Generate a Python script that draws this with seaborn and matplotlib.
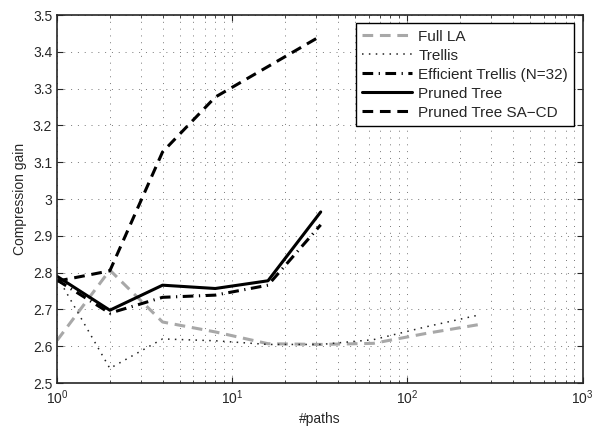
import matplotlib
matplotlib.use("Agg")
import matplotlib.pyplot as plt
import matplotlib.ticker as mticker
import seaborn as sns
import pandas as pd

# Data
paths_long = [1, 2, 4, 8, 16, 32, 64, 128, 256]
paths_short = [1, 2, 4, 8, 16, 32]

full_la = [2.616, 2.807, 2.666, 2.639, 2.607, 2.605, 2.608, 2.635, 2.659]
trellis = [2.79, 2.54, 2.62, 2.615, 2.605, 2.605, 2.618, 2.653, 2.685]
eff_trellis = [2.78, 2.69, 2.733, 2.739, 2.766, 2.93]
pruned_tree = [2.79, 2.698, 2.766, 2.757, 2.778, 2.965]
pruned_sacd = [2.777, 2.805, 3.128, 3.277, 3.36, 3.443]

series = [
    ("Full LA", paths_long, full_la, "#a8a8a8", (0, (3.5, 2.2)), 2.2),
    ("Trellis", paths_long, trellis, "#222222", (0, (1, 3.5)), 1.1),
    ("Efficient Trellis (N=32)", paths_short, eff_trellis, "black", (0, (3.5, 1.8, 0.4, 1.8)), 2.2),
    ("Pruned Tree", paths_short, pruned_tree, "black", "-", 2.2),
    ("Pruned Tree SA\u2212CD", paths_short, pruned_sacd, "black", (0, (3.5, 2.2)), 2.2),
]

sns.set_style("ticks")
plt.rcParams["font.family"] = ["Liberation Sans", "DejaVu Sans"]

fig, ax = plt.subplots(figsize=(5.95, 4.29), dpi=100)
fig.subplots_adjust(left=0.096, right=0.979, top=0.965, bottom=0.107)

for name, xs, ys, col, ls, lw in series:
    df = pd.DataFrame({"paths": xs, "gain": ys})
    sns.lineplot(data=df, x="paths", y="gain", ax=ax, color=col, linestyle=ls,
                 linewidth=lw, label=name, estimator=None)

ax.set_xscale("log")
ax.set_xlim(1, 1000)
ax.set_ylim(2.5, 3.5)
ax.set_yticks([2.5 + 0.1 * i for i in range(11)])
ax.yaxis.set_major_formatter(mticker.FuncFormatter(lambda v, p: f"{v:g}"))
ax.xaxis.set_major_locator(mticker.LogLocator(base=10, numticks=10))
ax.xaxis.set_minor_locator(mticker.LogLocator(base=10, subs=range(2, 10), numticks=20))

grid_kw = dict(linestyle=(0, (1, 6)), color="#777777", linewidth=0.7)
ax.grid(True, which="major", axis="both", **grid_kw)
ax.grid(True, which="minor", axis="x", **grid_kw)

ax.tick_params(which="both", direction="in", top=True, right=True, labelsize=10)
ax.tick_params(which="major", length=4)
ax.tick_params(which="minor", length=2)
for s in ax.spines.values():
    s.set_linewidth(1.2)

ax.set_xlabel("#paths", fontsize=10)
ax.set_ylabel("Compression gain", fontsize=10)

leg = ax.legend(loc="upper right", fontsize=11, frameon=True, fancybox=False,
                edgecolor="black", framealpha=1, borderaxespad=0.55,
                handlelength=3.3, handletextpad=0.4, labelspacing=0.33, borderpad=0.4)
leg.get_frame().set_linewidth(1.0)

fig.savefig("out.png", dpi=100)
